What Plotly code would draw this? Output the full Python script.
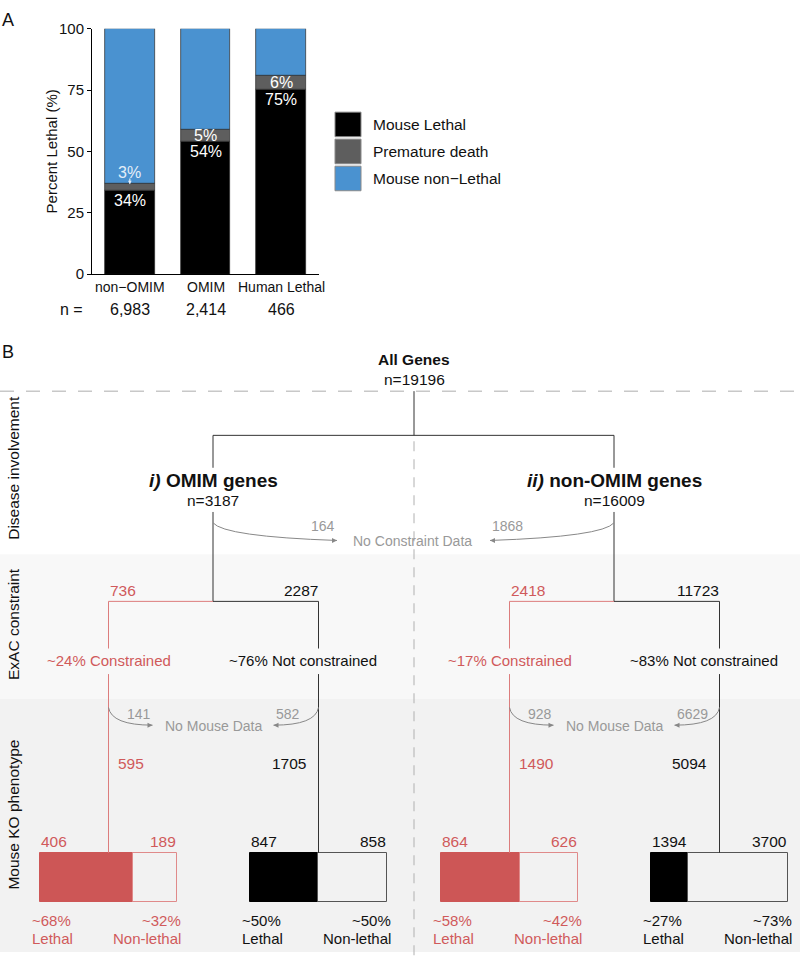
import plotly.graph_objects as go

# ---------------- Panel A data ----------------
categories = ["non\u2212OMIM", "OMIM", "Human Lethal"]
n_genes = ["6,983", "2,414", "466"]
pct_lethal = [34, 54, 75]
pct_premature = [3, 5, 6]
pct_nonlethal = [63, 41, 19]
legend_labels = ["Mouse Lethal", "Premature death", "Mouse non\u2212Lethal"]

# ---------------- Panel B data ----------------
all_genes = 19196
group_prefix = ["i)", "ii)"]
group_names = ["OMIM genes", "non-OMIM genes"]
group_n = [3187, 16009]
no_constraint = [164, 1868]
constrained_n = [736, 2418]
not_constrained_n = [2287, 11723]
constrained_pct = ["~24%", "~17%"]
not_constrained_pct = ["~76%", "~83%"]
no_mouse_constrained = [141, 928]
no_mouse_not_constrained = [582, 6629]
mouse_constrained = [595, 1490]
mouse_not_constrained = [1705, 5094]
box_lethal = [406, 847, 864, 1394]
box_nonlethal = [189, 858, 626, 3700]
box_lethal_pct = ["~68%", "~50%", "~58%", "~27%"]
box_nonlethal_pct = ["~32%", "~50%", "~42%", "~73%"]

FONT = "Liberation Sans, Arial, Helvetica, sans-serif"
BLACK = "#000000"
GRAYSEG = "#5E5E5E"
BLUE = "#4A92D0"
RED = "#CD5656"
REDTXT = "#D05A5B"
REDLINE = "#DC7D7D"
TREE = "#333333"
GRAYTXT = "#999999"
W, H = 800, 965

fig = go.Figure()

# ---------- Panel A bars ----------
xs = [1, 2, 3]
base_prem = [a for a in pct_lethal]
base_non = [a + b for a, b in zip(pct_lethal, pct_premature)]
for vals, base, col in [(pct_lethal, [0, 0, 0], BLACK),
                        (pct_premature, base_prem, GRAYSEG),
                        (pct_nonlethal, base_non, BLUE)]:
    fig.add_trace(go.Bar(x=xs, y=vals, base=base, width=0.66,
                         marker=dict(color=col, line=dict(color="#2a2a2a", width=0.7)),
                         showlegend=False, hoverinfo="skip", xaxis="x", yaxis="y"))

ann = []
shapes = []


def txt(x, y, s, size, color="#111111", xanchor="center", xref="x2", yref="y2", angle=0):
    ann.append(dict(x=x, y=y, text=s, xref=xref, yref=yref, showarrow=False,
                    xanchor=xanchor, yanchor="middle", textangle=angle,
                    font=dict(size=size, color=color, family=FONT)))


def line(x0, y0, x1, y1, color=TREE, width=1, dash=None, layer="above"):
    d = dict(type="line", xref="x2", yref="y2", x0=x0, y0=y0, x1=x1, y1=y1,
             line=dict(color=color, width=width), layer=layer)
    if dash:
        d["line"]["dash"] = dash
    shapes.append(d)


def arrow_tip(x, y, direction, color="#888888"):
    ann.append(dict(x=x, y=y, ax=x - 6 * direction, ay=y, xref="x2", yref="y2",
                    axref="x2", ayref="y2", text="", showarrow=True, arrowhead=2,
                    arrowsize=1, arrowwidth=1, arrowcolor=color, standoff=0))


# Panel A labels
txt(8, 11, "A", 18, "#111111")
txt(51, 145, "Percent Lethal (%)", 15, "#111111", angle=-90)
for i, x in enumerate(xs):
    txt(x, pct_lethal[i] - 4, f"{pct_lethal[i]}%", 16, "white", xref="x", yref="y")
    txt(x, 283, categories[i], 14, "#111111", xref="x", yref="y2")
    txt(x, 306, n_genes[i], 16, "#111111", xref="x", yref="y2")
txt(71, 306, "n =", 16, "#111111")
txt(2, pct_lethal[1] + pct_premature[1] / 2, f"{pct_premature[1]}%", 16, "white", xref="x", yref="y")
txt(3, pct_lethal[2] + pct_premature[2] / 2, f"{pct_premature[2]}%", 16, "white", xref="x", yref="y")
txt(1, pct_lethal[0] + pct_premature[0] + 4.6, f"{pct_premature[0]}%", 16, "#E4EEF8", xref="x", yref="y")
ann.append(dict(x=1, y=pct_lethal[0] + pct_premature[0] - 0.4, ax=1,
                ay=pct_lethal[0] + pct_premature[0] + 2.6, xref="x", yref="y",
                axref="x", ayref="y", text="", showarrow=True, arrowhead=2,
                arrowsize=0.6, arrowwidth=1.2, arrowcolor="#E4EEF8", standoff=0))

# legend (drawn keys)
key_cols = [BLACK, GRAYSEG, BLUE]
for i, (lab, col) in enumerate(zip(legend_labels, key_cols)):
    y0 = 105 + i * 27.5
    shapes.append(dict(type="rect", xref="x2", yref="y2", x0=335, x1=361, y0=y0, y1=y0 + 25,
                       fillcolor=col, line=dict(color="#8a8a8a", width=1)))
    txt(371, y0 + 12.5, lab, 15.5, "#111111", xanchor="left")

# ---------- Panel B ----------
txt(8, 349, "B", 18, "#111111")
# bands
shapes.append(dict(type="rect", xref="x2", yref="y2", x0=0, x1=W, y0=555, y1=702,
                   fillcolor="#F8F8F8", line=dict(width=0), layer="below"))
shapes.append(dict(type="rect", xref="x2", yref="y2", x0=0, x1=W, y0=702, y1=960,
                   fillcolor="#F2F2F2", line=dict(width=0), layer="below"))
txt(14, 467, "Disease involvement", 15.5, "#111111", angle=-90)
txt(14, 626, "ExAC constraint", 15.5, "#111111", angle=-90)
txt(14, 820, "Mouse KO phenotype", 15.5, "#111111", angle=-90)

line(0, 389, W, 389, "#C8C8C8", 1.5, "14px,12px")
line(414, 440, 414, 965, "#B0B0B0", 1, "10px,8px")

txt(414, 357, "<b>All Genes</b>", 15.5, "#111111")
txt(414, 377, f"n={all_genes}", 15.5, "#111111")
line(414, 389, 414, 434)
group_x = [213, 614]
line(group_x[0], 434, group_x[1], 434)

for g in range(2):
    gx = group_x[g]
    d = 1 if g == 0 else -1
    rx = gx - 104.5
    bx = gx + 105.5
    line(gx, 434, gx, 467)
    txt(gx, 480, f"<b><i>{group_prefix[g]}</i> {group_names[g]}</b>", 19, "#111111")
    txt(gx, 500, f"n={group_n[g]}", 15.5, "#111111")
    line(gx, 512, gx, 603)
    # no constraint curve
    tip = gx + 124 * d
    shapes.append(dict(type="path", xref="x2", yref="y2",
                       path=f"M {gx},523 Q {gx + 11 * d},537 {tip},541",
                       line=dict(color="#888888", width=1)))
    arrow_tip(tip, 541, d)
    txt(tip, 526, str(no_constraint[g]), 14, GRAYTXT, xanchor="right" if g == 0 else "left")
    # constraint split
    line(rx, 603, gx, 603, REDLINE)
    line(gx, 603, bx, 603)
    txt(rx - 1, 592, str(constrained_n[g]), 15.5, REDTXT, xanchor="left")
    txt(bx + 1, 592, str(not_constrained_n[g]), 15.5, "#111111", xanchor="right")
    line(rx, 603, rx, 651, REDLINE)
    line(bx, 603, bx, 651)
    txt(rx, 663, f"{constrained_pct[g]} Constrained", 15, REDTXT)
    txt(bx - 15.5, 663, f"{not_constrained_pct[g]} Not constrained", 15, "#111111")
    line(rx, 677, rx, 859, REDLINE)
    line(bx, 677, bx, 859)
    # no mouse data curves
    shapes.append(dict(type="path", xref="x2", yref="y2",
                       path=f"M {rx},711 Q {rx + 3},729 {rx + 44},729",
                       line=dict(color="#888888", width=1)))
    arrow_tip(rx + 44, 729, 1)
    shapes.append(dict(type="path", xref="x2", yref="y2",
                       path=f"M {bx},711 Q {bx - 3},729 {bx - 45},729",
                       line=dict(color="#888888", width=1)))
    arrow_tip(bx - 45, 729, -1)
    txt(rx + 44, 718, str(no_mouse_constrained[g]), 14, GRAYTXT, xanchor="right")
    txt(bx - 45, 718, str(no_mouse_not_constrained[g]), 14, GRAYTXT, xanchor="left")
    txt((rx + bx) / 2, 730, "No Mouse Data", 14, GRAYTXT)
    txt(rx + 7, 768, str(mouse_constrained[g]), 15.5, REDTXT, xanchor="left")
    txt(bx - 11, 768, str(mouse_not_constrained[g]), 15.5, "#111111", xanchor="right")

txt(412, 542, "No Constraint Data", 14, GRAYTXT)

# boxes (horizontal bars on pixel axis)
branch_x = []
for gx in group_x:
    branch_x += [gx - 104.5, gx + 105.5]
box_w = 137
lefts = [b - box_w / 2 for b in branch_x]
lw = [box_w * l / (l + n) for l, n in zip(box_lethal, box_nonlethal)]
nw = [box_w - w for w in lw]
fill_cols = [RED, BLACK, RED, BLACK]
edge_cols = ["#E08A8A", "#555555", "#E08A8A", "#555555"]
txt_cols = [REDTXT, "#111111", REDTXT, "#111111"]
fig.add_trace(go.Bar(orientation="h", y=[884] * 4, x=lw, base=lefts, width=50,
                     marker=dict(color=fill_cols, line=dict(color=fill_cols, width=1)),
                     showlegend=False, hoverinfo="skip", xaxis="x2", yaxis="y2"))
fig.add_trace(go.Bar(orientation="h", y=[884] * 4, x=nw, base=[l + w for l, w in zip(lefts, lw)],
                     width=50, marker=dict(color="rgba(0,0,0,0)", line=dict(color=edge_cols, width=1)),
                     showlegend=False, hoverinfo="skip", xaxis="x2", yaxis="y2"))
for i in range(4):
    left = lefts[i]
    right = lefts[i] + box_w
    c = txt_cols[i]
    txt(left - 1, 847, str(box_lethal[i]), 15.5, c, xanchor="left")
    txt(right + 1, 847, str(box_nonlethal[i]), 15.5, c, xanchor="right")
    txt(left - 10, 928, box_lethal_pct[i], 15, c, xanchor="left")
    txt(left - 10, 946, "Lethal", 15, c, xanchor="left")
    txt(right + 6, 928, box_nonlethal_pct[i], 15, c, xanchor="right")
    txt(right + 6, 946, "Non-lethal", 15, c, xanchor="right")

fig.update_layout(
    width=W, height=H, autosize=False,
    margin=dict(l=0, r=0, t=0, b=0),
    paper_bgcolor="white", plot_bgcolor="rgba(0,0,0,0)",
    barmode="overlay", bargap=0,
    font=dict(family=FONT, color="#111111"),
    annotations=ann, shapes=shapes,
    xaxis=dict(domain=[92 / W, 319 / W], range=[0.5, 3.5], tickvals=xs, showticklabels=False,
               showline=True, linecolor="black", linewidth=1, ticks="",
               showgrid=False, zeroline=False, fixedrange=True),
    yaxis=dict(domain=[1 - 270 / H, 1 - 20 / H], range=[0, 100], tickvals=[0, 25, 50, 75, 100],
               showline=True, linecolor="black", linewidth=1, ticks="outside", ticklen=4,
               tickcolor="black", tickfont=dict(size=15, color="#111111"),
               showgrid=False, zeroline=False, fixedrange=True),
    xaxis2=dict(domain=[0, 1], range=[0, W], visible=False, fixedrange=True),
    yaxis2=dict(domain=[0, 1], range=[H, 0], visible=False, fixedrange=True),
)

fig.write_html("out.html", config={"displayModeBar": False},
               post_script="document.body.style.margin='0';document.body.style.padding='0';")
